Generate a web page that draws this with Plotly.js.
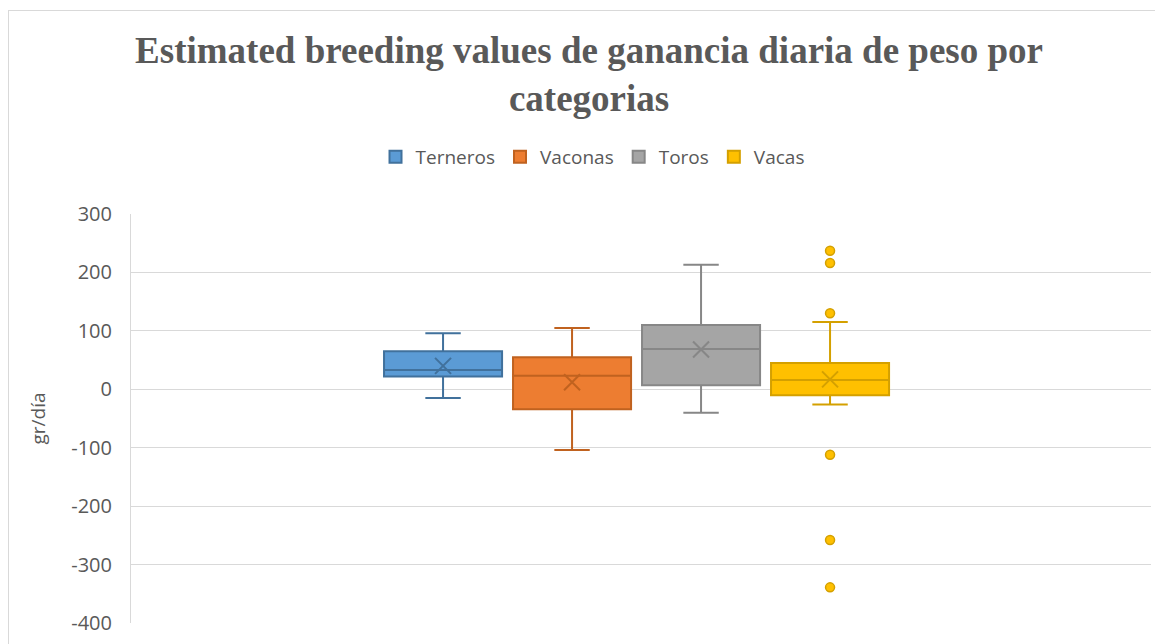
<!DOCTYPE html>
<html>
<head>
<meta charset="utf-8">
<script src="https://cdn.plot.ly/plotly-3.0.1.min.js"></script>
<style>
  html, body { margin: 0; padding: 0; background: #fff; overflow: hidden; }
  #frame { position: absolute; left: 8px; top: 10px; width: 1170px; height: 660px; border: 1px solid #d9d9d9; box-sizing: border-box; pointer-events: none; z-index: 5; }
  #chart { position: absolute; left: 0; top: 0; width: 1155px; height: 644px; }
</style>
</head>
<body>
<div id="chart"></div>
<div id="frame"></div>
<script>
// ---- Data ----
const categories = ["Terneros", "Vaconas", "Toros", "Vacas"];
const lowerWhisker = [-15, -104, -40, -26];
const q1Values     = [22, -34, 7, -10];
const medianValues = [33, 23, 69, 16];
const q3Values     = [65, 55, 110, 45];
const upperWhisker = [96, 105, 213, 115];
const meanValues   = [40, 12, 68, 17];
const vacasOutliers = [237, 216, 130, -112, -258, -339];
const yTickValues = [300, 200, 100, 0, -100, -200, -300, -400];

// ---- Styles ----
const fillColors = ["#5b9bd5", "#ed7d31", "#a5a5a5", "#ffc000"];
const lineColors = ["#41719c", "#c0621f", "#878787", "#d4a000"];
const textColor = "#595959";

const traces = [];
categories.forEach((name, i) => {
  traces.push({
    type: "box",
    name: name,
    x: [i],
    q1: [q1Values[i]],
    median: [medianValues[i]],
    q3: [q3Values[i]],
    lowerfence: [lowerWhisker[i]],
    upperfence: [upperWhisker[i]],
    width: 0.915,
    whiskerwidth: 0.3,
    fillcolor: fillColors[i],
    line: { color: lineColors[i], width: 2 },
    boxpoints: false,
    hoverinfo: "skip",
    showlegend: true
  });
});
// Mean markers (X)
categories.forEach((name, i) => {
  traces.push({
    type: "scatter",
    mode: "markers",
    x: [i],
    y: [meanValues[i]],
    marker: { symbol: "x-thin-open", size: 16, color: lineColors[i], line: { color: lineColors[i], width: 2 } },
    showlegend: false,
    hoverinfo: "skip"
  });
});
// Outliers for Vacas
const vacasIndex = categories.indexOf("Vacas");
traces.push({
  type: "scatter",
  mode: "markers",
  x: vacasOutliers.map(() => vacasIndex),
  y: vacasOutliers,
  marker: { symbol: "circle", size: 9, color: fillColors[vacasIndex], line: { color: lineColors[vacasIndex], width: 1.5 } },
  showlegend: false,
  hoverinfo: "skip"
});

const layout = {
  width: 1155,
  height: 644,
  margin: { l: 131, r: 4, t: 214, b: 21, pad: 0 },
  paper_bgcolor: "#ffffff",
  plot_bgcolor: "#ffffff",
  font: { family: "Open Sans, Noto Sans, sans-serif", color: textColor },
  title: {
    text: "Estimated breeding values de ganancia diaria de peso por<br>categorias",
    font: { family: "Liberation Serif, Times New Roman, serif", size: 37, color: textColor, weight: "bold" },
    xref: "container",
    x: 0.51,
    xanchor: "center",
    yref: "container",
    y: 1 - 63 / 644,
    yanchor: "middle"
  },
  showlegend: true,
  legend: {
    orientation: "h",
    xref: "container",
    yref: "container",
    x: 0.513,
    xanchor: "center",
    y: 1 - 157 / 644,
    yanchor: "middle",
    font: { size: 19, color: textColor },
    itemwidth: 30,
    traceorder: "normal"
  },
  xaxis: {
    range: [-2.419, 5.488],
    showticklabels: false,
    showgrid: false,
    zeroline: false,
    showline: false,
    ticks: "",
    fixedrange: true
  },
  yaxis: {
    range: [-400, 300],
    tickvals: yTickValues,
    ticktext: yTickValues.map(String),
    showgrid: true,
    gridcolor: "#d9d9d9",
    gridwidth: 1,
    zeroline: false,
    showline: true,
    linecolor: "#d9d9d9",
    linewidth: 1,
    ticks: "",
    ticklabelstandoff: 14,
    tickfont: { size: 20, color: textColor },
    title: { text: "gr/día", font: { size: 19, color: textColor }, standoff: 20 },
    fixedrange: true
  },
  boxmode: "overlay"
};

Plotly.newPlot("chart", traces, layout, { displayModeBar: false, staticPlot: true });
</script>
</body>
</html>
